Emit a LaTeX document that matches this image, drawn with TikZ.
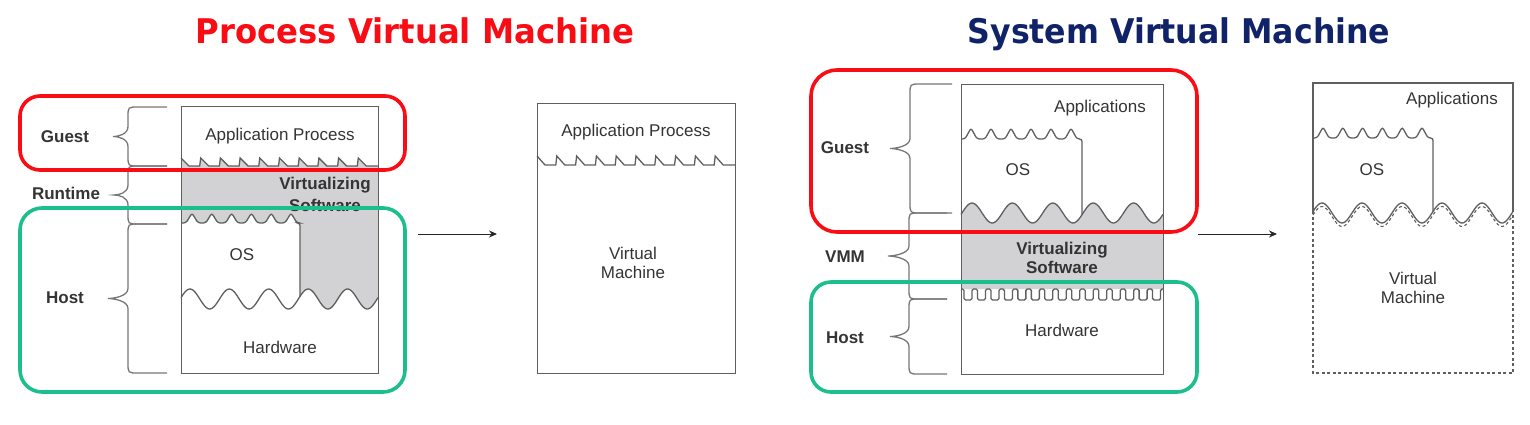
\documentclass[tikz,border=0pt]{standalone}
\usepackage{fontspec}
\usepackage{graphicx}
\setmainfont{Liberation Sans}
\newfontfamily\titlefont{DejaVu Sans}
\usetikzlibrary{arrows.meta}
\definecolor{vmred}{RGB}{250,12,20}
\definecolor{vmnavy}{RGB}{16,34,104}
\definecolor{vmgreen}{RGB}{28,190,142}
\definecolor{vgray}{RGB}{210,210,212}
\definecolor{linec}{RGB}{95,95,95}
\definecolor{txt}{RGB}{52,52,52}
\newcommand{\mybrace}[6]{% xe, xb, xt, y1, y2, name
  \draw[brc] (#1,#4) -- ({#2+10},#4) .. controls (#2,#4) and (#2,#4) .. (#2,{#4+10})
    -- (#2,{(#4+#5)/2-10}) .. controls (#2,{(#4+#5)/2-2}) and ({#3+5},{(#4+#5)/2}) .. (#3,{(#4+#5)/2})
    .. controls ({#3+5},{(#4+#5)/2}) and (#2,{(#4+#5)/2+2}) .. (#2,{(#4+#5)/2+10})
    -- (#2,{#5-10}) .. controls (#2,#5) and (#2,#5) .. ({#2+10},#5) -- (#1,#5);
  \coordinate (#6) at (#3,{(#4+#5)/2});}
% wave functions (phase in degrees)
\tikzset{
  declare function={wl(\t)=299-10*sin((\t-181)*9.137+8);
                    wr(\t)=213-10*sin((\t-961)*8.911-8);
                    wv(\t)=213-10*sin((\t-1313)*9+9);},
  lbl/.style={font=\fontsize{17}{19.5}\selectfont, text=txt, inner sep=0pt, align=center},
  blbl/.style={font=\fontsize{17}{19.5}\selectfont\bfseries, text=txt, inner sep=0pt, align=center},
  ttl/.style={font=\titlefont\bfseries\fontsize{34}{38}\selectfont, inner sep=0pt, anchor=base},
  ln/.style={draw=linec, line width=1.3pt},
  brc/.style={draw=linec!85, line width=1.3pt},
  boxn/.style={draw=linec, line width=1.3pt, inner sep=0pt, anchor=north west},
  redbox/.style={draw=vmred, line width=3.6pt, rounded corners=20pt},
  greenbox/.style={draw=vmgreen, line width=3.6pt, rounded corners=22pt},
  arr/.style={draw=black!85, line width=1pt, -{Stealth[length=8pt,width=7pt]}}
}
\begin{document}
\begin{tikzpicture}[x=1pt,y=-1pt]
\useasboundingbox (0,0) rectangle (1530,424);

% titles
\node[ttl, text=vmred] (t1) at (415,43) {\scalebox{0.95}[1]{Process Virtual Machine}};
\node[ttl, text=vmnavy] (t2) at (1179,43) {\scalebox{0.93}[1]{System Virtual Machine}};

% ================= LEFT: process VM =================
\fill[vgray] (181,158) -- (189,166)
  \foreach \i in {1,...,9} { -- ({181+19.7*\i-1},166) -- ({181+19.7*\i},158) -- ({181+19.7*\i+8},166) }
  -- (378,166) -- (378,{wl(378)})
  -- plot[domain=378:181,samples=120] (\x,{wl(\x)}) -- cycle;
\fill[white, rounded corners=2.5pt] (181,223)
  \foreach \i in {0,...,5} { -- ({181+19.8*\i+5},223) -- ({181+19.8*\i+11},213) -- ({181+19.8*\i+17},223) }
  -- (300,223) -- (300,{wl(300)})
  -- plot[domain=300:181,samples=80] (\x,{wl(\x)}) -- cycle;
\draw[ln] (181,158) -- (189,166)
  \foreach \i in {1,...,9} { -- ({181+19.7*\i-1},166) -- ({181+19.7*\i},158) -- ({181+19.7*\i+8},166) }
  -- (378,166);
\draw[ln, rounded corners=2.5pt] (181,223)
  \foreach \i in {0,...,5} { -- ({181+19.8*\i+5},223) -- ({181+19.8*\i+11},213) -- ({181+19.8*\i+17},223) }
  -- (300,223) -- (300,{wl(300)});
\draw[ln] plot[domain=181:378,samples=120] (\x,{wl(\x)});
\node[boxn, minimum width=197pt, minimum height=267pt] (boxL) at (181,106) {};

\node[lbl] (apL) at (280,136) {Application Process};
\node[blbl] (vsL1) at (325,185) {Virtualizing};
\node[blbl] (vsL2) at (325,205) {Software};
\node[lbl] (osL) at (242,255) {OS};
\node[lbl] (hwL) at (280,347) {Hardware};

\mybrace{167}{128}{113}{107}{166}{bg1}
\mybrace{167}{128}{114}{166}{224}{bg2}
\mybrace{167}{128}{108}{224}{373}{bg3}
\node[blbl] (gL) at (65,137) {Guest};
\node[blbl] (rL) at (66,193) {Runtime};
\node[blbl] (hL) at (65,298) {Host};

% left VM box
\node[boxn, minimum width=198pt, minimum height=270pt] (vmL) at (537,103) {};
\draw[ln] (537,156) -- (545,165)
  \foreach \i in {1,...,9} { -- ({537+19.8*\i-1},165) -- ({537+19.8*\i},156) -- ({537+19.8*\i+8},165) }
  -- (735,165);
\node[lbl] (apL2) at (636,132) {Application Process};
\node[lbl] (vmtL) at (633,263) {Virtual\\Machine};

\coordinate (a1s) at (418,234);
\coordinate (a1e) at (497,234);
\draw[arr] (a1s) -- (a1e);

\draw[redbox] (20,96) rectangle (405,170);
\draw[greenbox] (20,208) rectangle (405,392);

% ================= RIGHT: system VM =================
\fill[vgray] (961,{wr(961)})
  -- plot[domain=961:1163,samples=120] (\x,{wr(\x)})
  -- (1163,289) -- (961,289) -- cycle;
\draw[ln, rounded corners=2.5pt] (961,139)
  \foreach \i in {0,...,5} { -- ({961+20*\i+4},139) -- ({961+20*\i+10},128) -- ({961+20*\i+16},139) }
  -- (1082,139) -- (1082,{wr(1082)});
\draw[ln] plot[domain=961:1163,samples=120] (\x,{wr(\x)});
\draw[ln, rounded corners=1.5pt] (961,289)
  \foreach \i in {0,...,14} { -- ({961+13.47*\i+3},289) -- ({961+13.47*\i+3},300) -- ({961+13.47*\i+11},300) -- ({961+13.47*\i+11},289) }
  -- (1163,289);
\node[boxn, minimum width=202pt, minimum height=290pt] (boxR) at (961,84) {};

\node[lbl] (apR) at (1100,108) {Applications};
\node[lbl] (osR) at (1018,170) {OS};
\node[blbl] (vsR) at (1062,258) {Virtualizing\\Software};
\node[lbl] (hwR) at (1062,330) {Hardware};

\mybrace{952}{910}{890}{84}{213}{br1}
\mybrace{947}{909}{888}{213}{299}{br2}
\mybrace{947}{909}{890}{299}{374}{br3}
\node[blbl] (gR) at (845,148) {Guest};
\node[blbl] (vR) at (845,257) {VMM};
\node[blbl] (hR) at (845,338) {Host};

% right VM box
\draw[ln] (1313,{wv(1313)}) -- (1313,83) -- (1513,83) -- (1513,{wv(1513)});
\draw[ln, rounded corners=2.5pt] (1313,138)
  \foreach \i in {0,...,5} { -- ({1313+19.8*\i+4},138) -- ({1313+19.8*\i+10},127) -- ({1313+19.8*\i+16},138) }
  -- (1433,138) -- (1433,{wv(1433)});
\draw[ln] plot[domain=1313:1513,samples=120] (\x,{wv(\x)});
\draw[ln, line width=1.1pt, dash pattern=on 3pt off 2.5pt] plot[domain=1313:1513,samples=120] (\x,{wv(\x)+3.5});
\draw[ln, line width=1.1pt, dash pattern=on 3pt off 2.5pt] (1313,{wv(1313)}) -- (1313,373) -- (1513,373) -- (1513,{wv(1513)});
\node[lbl] (apR2) at (1452,100) {Applications};
\node[lbl] (osR2) at (1372,170) {OS};
\node[lbl] (vmtR) at (1413,288) {Virtual\\Machine};

\coordinate (a2s) at (1198,234);
\coordinate (a2e) at (1277,234);
\draw[arr] (a2s) -- (a2e);

\draw[redbox, rounded corners=26pt] (811,70) rectangle (1197,232);
\draw[greenbox, rounded corners=20pt] (811,282) rectangle (1197,392);
\end{tikzpicture}
\end{document}
